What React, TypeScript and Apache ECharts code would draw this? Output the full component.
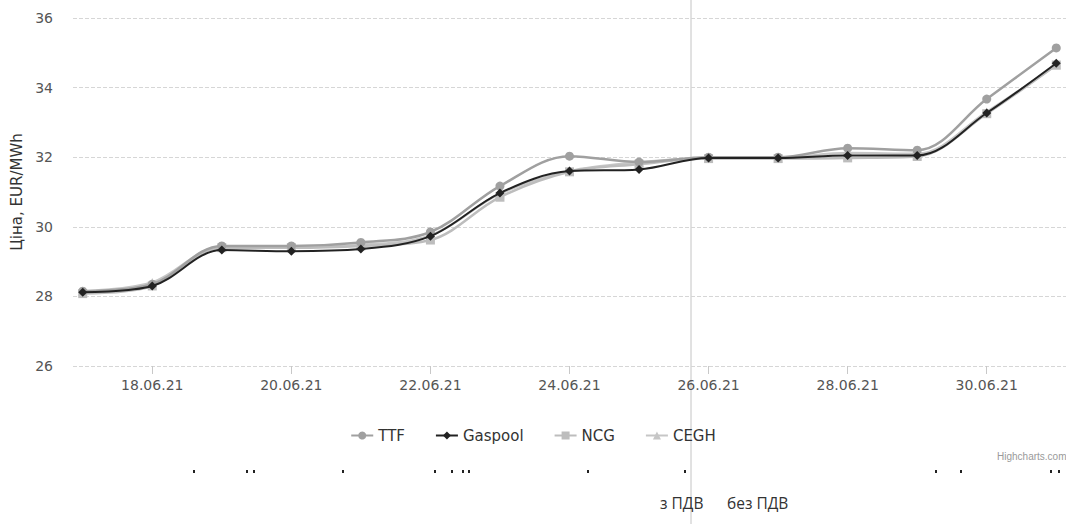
import React, { useEffect, useRef } from "react";
import * as echarts from "echarts";

const dates = [
  "17.06.21", "18.06.21", "19.06.21", "20.06.21", "21.06.21", "22.06.21", "23.06.21", "24.06.21",
  "25.06.21", "26.06.21", "27.06.21", "28.06.21", "29.06.21", "30.06.21", "01.07.21",
];
const tickIndexes = [1, 3, 5, 7, 9, 11, 13];
const ttf = [28.15, 28.35, 29.45, 29.45, 29.55, 29.85, 31.17, 32.03, 31.86, 32.0, 32.0, 32.26, 32.2, 33.67, 35.14];
const gaspool = [28.12, 28.3, 29.33, 29.3, 29.36, 29.73, 30.97, 31.6, 31.65, 31.98, 31.98, 32.05, 32.05, 33.27, 34.7];
const ncg = [28.08, 28.3, 29.4, 29.4, 29.45, 29.62, 30.85, 31.58, 31.8, 31.96, 31.96, 31.98, 32.02, 33.25, 34.65];
const cegh = [28.15, 28.4, 29.42, 29.42, 29.48, 29.75, 30.95, 31.6, 31.85, 31.98, 31.98, 32.12, 32.1, 33.3, 34.65];
const yTicks = { min: 26, max: 36, interval: 2 };
const seriesNames = ["TTF", "Gaspool", "NCG", "CEGH"];
const dotXs = [193, 246, 253, 342, 434, 451, 462, 468, 587, 684, 935, 960, 1050, 1058];

export default function App() {
  const ref = useRef<HTMLDivElement>(null);
  useEffect(() => {
    if (!ref.current) return;
    const chart = echarts.init(ref.current, null, { renderer: "svg" });
    const font = "'DejaVu Sans', Verdana, sans-serif";
    const mk = (name: string, values: number[], color: string, symbol: string, z: number, width: number) => ({
      name,
      type: "line",
      data: values.map((v, i) => [i, v]),
      smooth: 0.35,
      symbol,
      symbolSize: symbol === "diamond" ? 9 : 9,
      showSymbol: true,
      z,
      lineStyle: { color, width },
      itemStyle: { color },
    });
    chart.setOption({
      animation: false,
      backgroundColor: "#ffffff",
      textStyle: { fontFamily: font },
      grid: { left: 73, right: -1, top: 18, bottom: 158, containLabel: false },
      legend: {
        top: 423,
        left: "center",
        itemGap: 30,
        itemWidth: 22,
        itemHeight: 10,
        textStyle: { fontSize: 15, color: "#333", fontFamily: font },
        data: seriesNames,
      },
      xAxis: {
        type: "value",
        min: -0.14,
        max: 14.14,
        splitLine: { show: false },
        axisLine: { show: false },
        axisTick: {
          show: true,
          customValues: tickIndexes,
          length: 8,
          lineStyle: { color: "#c8c8c8" },
        },
        axisLabel: {
          customValues: tickIndexes,
          formatter: (v: number) => dates[Math.round(v)],
          fontSize: 14,
          color: "#555",
          margin: 12,
        },
      },
      yAxis: {
        type: "value",
        min: yTicks.min,
        max: yTicks.max,
        interval: yTicks.interval,
        name: "Ціна, EUR/MWh",
        nameLocation: "middle",
        nameGap: 49,
        nameTextStyle: { fontSize: 15, color: "#333", fontFamily: font },
        axisLine: { show: false },
        axisTick: { show: false },
        axisLabel: { fontSize: 14, color: "#555", margin: 20 },
        splitLine: { lineStyle: { color: "#d6d6d6", type: "dashed", width: 1 } },
      },
      series: [
        mk("TTF", ttf, "#a0a0a0", "circle", 3, 2.5),
        mk("Gaspool", gaspool, "#222222", "diamond", 4, 2),
        mk("NCG", ncg, "#bdbdbd", "rect", 2, 2.5),
        mk("CEGH", cegh, "#c6c6c6", "triangle", 1, 2.5),
      ],
      graphic: [
        { type: "line", shape: { x1: 691, y1: 0, x2: 691, y2: 524 }, style: { stroke: "#c4c4c4", lineWidth: 1 }, z: 0 },
        { type: "text", x: 997, y: 451, style: { text: "Highcharts.com", fontSize: 10, fill: "#9a9a9a", fontFamily: "'Liberation Sans', Arial, sans-serif" } },
        { type: "text", x: 660, y: 495, style: { text: "з ПДВ", fontSize: 15.5, fill: "#333", fontFamily: "'Open Sans', sans-serif" } },
        { type: "text", x: 727, y: 495, style: { text: "без ПДВ", fontSize: 15.5, fill: "#333", fontFamily: "'Open Sans', sans-serif" } },
        ...dotXs.map((x) => ({ type: "rect", shape: { x, y: 470, width: 2, height: 3 }, style: { fill: "#222" } })),
      ],
    });
    return () => chart.dispose();
  }, []);
  return (
    <div
      ref={ref}
      style={{ position: "fixed", left: 0, top: 0, width: 1066, height: 524 }}
    />
  );
}
